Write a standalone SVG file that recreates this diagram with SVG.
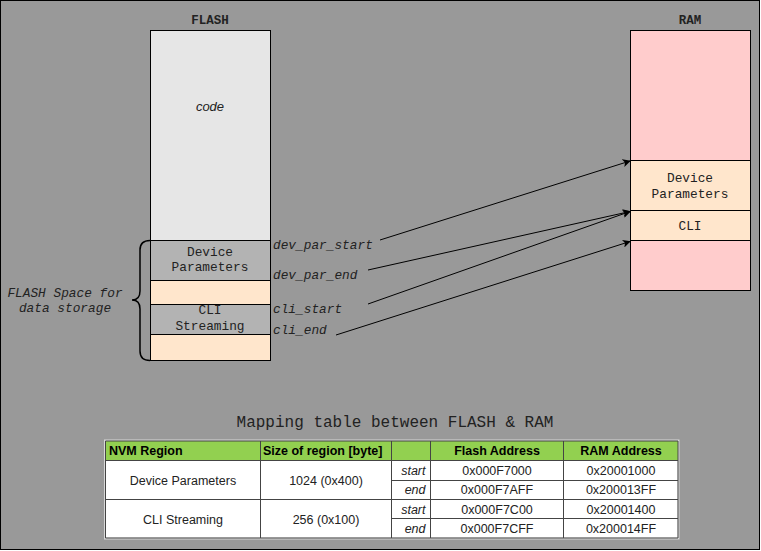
<svg xmlns="http://www.w3.org/2000/svg" width="761" height="551" viewBox="0 0 761 551">
<style>
.mono{font-family:"Liberation Mono","Courier New",monospace;font-size:12.8px;fill:#222}
.lbl{font-family:"Liberation Mono","Courier New",monospace;font-size:12.8px;font-style:italic;fill:#222}
.ttl{font-family:"Liberation Mono","Courier New",monospace;font-size:12.5px;font-weight:bold;fill:#222}
.box{stroke:#000;stroke-width:1}
.conn{stroke:#000;stroke-width:1;fill:none;marker-end:url(#ah)}
.th{font-family:"Liberation Sans",Arial,sans-serif;font-size:12.5px;font-weight:bold;fill:#000}
.td{font-family:"Liberation Sans",Arial,sans-serif;font-size:12.5px;fill:#222}
.tdi{font-family:"Liberation Sans",Arial,sans-serif;font-size:12.5px;font-style:italic;fill:#222}
.grid{stroke:#444;stroke-width:1}
</style>
<defs>
<marker id="ah" viewBox="0 0 10 10" refX="9" refY="5" markerWidth="8" markerHeight="8" markerUnits="userSpaceOnUse" orient="auto">
<path d="M0,0 L10,5 L0,10 L2.5,5 z" fill="#000"/>
</marker>
</defs>
<rect x="0.5" y="0.5" width="759" height="549" fill="#999999" stroke="#000" stroke-width="1"/>

<g id="flash">
<text class="ttl" x="210" y="24" text-anchor="middle">FLASH</text>
<rect class="box" x="150.5" y="30.5" width="120" height="210" fill="#E6E6E6"/>
<text x="210" y="111" text-anchor="middle" font-family="Liberation Sans,Arial,sans-serif" font-size="13" font-style="italic" fill="#222">code</text>
<rect class="box" x="150.5" y="240.5" width="120" height="40" fill="#B3B3B3"/>
<text class="mono" x="210" y="256" text-anchor="middle">Device</text>
<text class="mono" x="210" y="271" text-anchor="middle">Parameters</text>
<rect class="box" x="150.5" y="280.5" width="120" height="24" fill="#FFE6CC"/>
<rect class="box" x="150.5" y="304.5" width="120" height="30" fill="#B3B3B3"/>
<text class="mono" x="210" y="314" text-anchor="middle">CLI</text>
<text class="mono" x="210" y="330" text-anchor="middle">Streaming</text>
<rect class="box" x="150.5" y="334.5" width="120" height="26" fill="#FFE6CC"/>
</g>

<g id="brace">
<path d="M150,240.5 Q140,240.5 140,250 L140,291 Q140,300 132,300 Q140,300 140,309 L140,351 Q140,360.5 150,360.5" fill="none" stroke="#000" stroke-width="1.5"/>
<text class="lbl" x="65" y="297" text-anchor="middle">FLASH Space for</text>
<text class="lbl" x="65" y="312" text-anchor="middle">data storage</text>
</g>

<g id="flash-labels">
<text class="lbl" x="273" y="249">dev_par_start</text>
<text class="lbl" x="273" y="279">dev_par_end</text>
<text class="lbl" x="273" y="313">cli_start</text>
<text class="lbl" x="273" y="334">cli_end</text>
</g>

<g id="ram">
<text class="ttl" x="690" y="24" text-anchor="middle">RAM</text>
<rect class="box" x="630.5" y="30.5" width="120" height="130" fill="#FFCCCC"/>
<rect class="box" x="630.5" y="160.5" width="120" height="50" fill="#FFE6CC"/>
<text class="mono" x="690" y="181.5" text-anchor="middle">Device</text>
<text class="mono" x="690" y="197.5" text-anchor="middle">Parameters</text>
<rect class="box" x="630.5" y="210.5" width="120" height="30" fill="#FFE6CC"/>
<text class="mono" x="690" y="230" text-anchor="middle">CLI</text>
<rect class="box" x="630.5" y="240.5" width="120" height="50" fill="#FFCCCC"/>
</g>

<g id="connectors">
<line class="conn" x1="380" y1="240" x2="630" y2="161"/>
<line class="conn" x1="368" y1="270" x2="630" y2="211.5"/>
<line class="conn" x1="368" y1="304" x2="630" y2="211.5"/>
<line class="conn" x1="336" y1="335" x2="630" y2="241.5"/>
</g>

<g id="table">
<text x="395" y="427" text-anchor="middle" font-family="Liberation Mono,Courier New,monospace" font-size="16" fill="#222">Mapping table between FLASH &amp; RAM</text>
<rect x="105" y="440.5" width="573.5" height="98" fill="#fff" stroke="#d8d8d8" stroke-width="2"/>
<rect x="105.5" y="441" width="572.5" height="19.5" fill="#92D050"/>
<g class="grid">
<line x1="105.5" y1="441" x2="678" y2="441"/>
<line x1="105.5" y1="460.5" x2="678" y2="460.5"/>
<line x1="391.5" y1="480.5" x2="678" y2="480.5"/>
<line x1="105.5" y1="499.5" x2="678" y2="499.5"/>
<line x1="391.5" y1="518.5" x2="678" y2="518.5"/>
<line x1="105.5" y1="538" x2="678" y2="538"/>
<line x1="105.5" y1="441" x2="105.5" y2="538"/>
<line x1="260.5" y1="441" x2="260.5" y2="538"/>
<line x1="391.5" y1="441" x2="391.5" y2="538"/>
<line x1="430.5" y1="441" x2="430.5" y2="538"/>
<line x1="563.5" y1="441" x2="563.5" y2="538"/>
<line x1="678" y1="441" x2="678" y2="538"/>
</g>
<text class="th" x="109" y="455">NVM Region</text>
<text class="th" x="263" y="455">Size of region [byte]</text>
<text class="th" x="497" y="455" text-anchor="middle">Flash Address</text>
<text class="th" x="621" y="455" text-anchor="middle">RAM Address</text>
<text class="td" x="183" y="484.5" text-anchor="middle">Device Parameters</text>
<text class="td" x="326" y="484.5" text-anchor="middle">1024 (0x400)</text>
<text class="td" x="183" y="523.5" text-anchor="middle">CLI Streaming</text>
<text class="td" x="326" y="523.5" text-anchor="middle">256 (0x100)</text>
<text class="tdi" x="425.5" y="474.5" text-anchor="end">start</text>
<text class="tdi" x="425.5" y="494" text-anchor="end">end</text>
<text class="tdi" x="425.5" y="513.5" text-anchor="end">start</text>
<text class="tdi" x="425.5" y="533" text-anchor="end">end</text>
<text class="td" x="497" y="474.5" text-anchor="middle">0x000F7000</text>
<text class="td" x="497" y="494" text-anchor="middle">0x000F7AFF</text>
<text class="td" x="497" y="513.5" text-anchor="middle">0x000F7C00</text>
<text class="td" x="497" y="533" text-anchor="middle">0x000F7CFF</text>
<text class="td" x="621" y="474.5" text-anchor="middle">0x20001000</text>
<text class="td" x="621" y="494" text-anchor="middle">0x200013FF</text>
<text class="td" x="621" y="513.5" text-anchor="middle">0x20001400</text>
<text class="td" x="621" y="533" text-anchor="middle">0x200014FF</text>
</g>
</svg>
